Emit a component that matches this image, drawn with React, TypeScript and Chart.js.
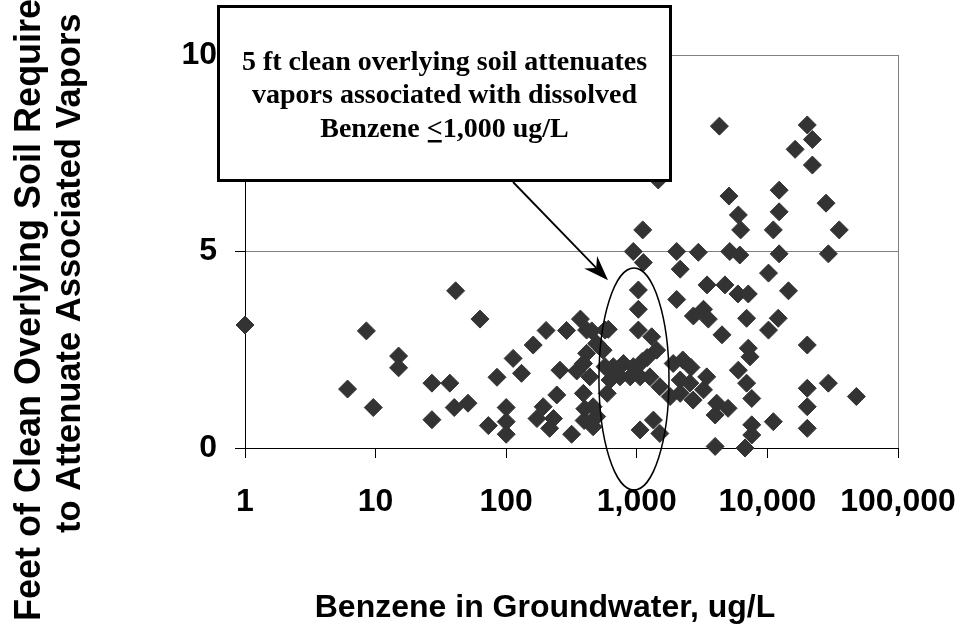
import React, { useEffect, useRef } from 'react';
import { Chart, registerables } from 'chart.js';

Chart.register(...registerables);

// ---- Axis ticks ----
const X_TICKS = [1, 10, 100, 1000, 10000, 100000];
const X_TICK_LABELS = ['1', '10', '100', '1,000', '10,000', '100,000'];
const Y_TICKS = [0, 5, 10];
const Y_TICK_LABELS = ['0', '5', '10'];

// ---- Titles / annotation text ----
const X_TITLE = 'Benzene in Groundwater, ug/L';
const Y_TITLE_LINES = ['Feet of Clean Overlying Soil Required', 'to Attenuate Associated Vapors'];
const NOTE_LINES = ['5 ft clean overlying soil attenuates', 'vapors associated with dissolved'];
const NOTE_LAST = ['Benzene ', '<', '1,000 ug/L'];

// ---- Series: benzene concentration (ug/L) and required clean soil (ft) ----
const BENZENE_UGL = [
  1, 6.1, 8.5, 9.6, 15, 15, 27, 27, 37, 40,
  41, 51, 63, 73, 85, 100, 100, 100, 113, 131,
  161, 244, 192, 172, 230, 215, 202, 258, 290, 317,
  347, 370, 400, 395, 413, 452, 493,
  571, 605, 493, 413, 552, 571, 390, 437, 390, 463,
  463, 661, 790, 940, 744, 624, 890, 1060, 1260, 594,
  1500, 1100, 1110, 940, 1122, 1028, 1028, 1028, 1300, 1420,
  1200, 1060, 1340, 1500, 1460,
  2020, 2960, 2150, 2020, 2710, 3240, 3530, 1900, 2250, 2600,
  2150, 2550, 1800, 2150, 2700, 3240, 3430, 4090, 3980, 5000,
  7590, 11100, 7590, 7590, 3980, 6740,
  4290, 20200, 22100, 16300, 22100, 5080, 12300, 28100, 5990, 12300,
  6240, 11100, 35500, 5150, 6150, 12300, 29300, 10200, 3450, 4730,
  5950, 7140, 14500, 6930, 12100, 10200, 4490, 20200, 7140, 7360,
  5990, 6930, 20200, 29300, 48000, 20200, 20200,
];
const SOIL_FT = [
  3.13, 1.5, 2.98, 1.03, 2.34, 2.04, 1.65, 0.72, 1.65, 1.03,
  4.0, 1.14, 3.28, 0.57, 1.8, 1.03, 0.67, 0.35, 2.28, 1.9,
  2.62, 1.35, 1.05, 0.75, 0.75, 0.5, 2.99, 1.98, 2.99, 0.35,
  1.96, 3.28, 1.0, 0.7, 3.0, 2.98, 0.8,
  3.0, 3.02, 2.66, 2.41, 2.49, 2.07, 2.15, 1.81, 1.39, 1.05,
  0.54, 2.07, 2.15, 2.07, 1.81, 1.73, 1.81, 1.81, 1.81, 1.39,
  1.56, 2.2, 5.55, 5.0, 4.72, 4.02, 3.53, 3.0, 2.83, 2.49,
  2.3, 0.46, 0.71, 0.37, 6.82,
  5.0, 4.98, 4.55, 3.78, 3.36, 3.53, 3.28, 2.15, 2.24, 2.05,
  1.73, 1.65, 1.31, 1.39, 1.22, 1.48, 1.81, 1.14, 0.84, 1.01,
  1.26, 0.67, 0.59, 0.33, 0.04, 0.0,
  8.19, 8.22, 7.85, 7.6, 7.2, 6.41, 6.56, 6.23, 5.93, 6.01,
  5.55, 5.55, 5.55, 5.0, 4.91, 4.94, 4.94, 4.45, 4.15, 4.15,
  3.92, 3.92, 4.0, 3.3, 3.3, 3.0, 2.88, 2.62, 2.54, 2.32,
  1.98, 1.65, 1.52, 1.65, 1.31, 1.05, 0.5,
];

// ---- Annotation anchors in data units ----
const ELLIPSE_X = [513, 1764];
const ELLIPSE_Y = [-1.07, 4.58];
const ARROW_TIP = [602, 4.27];

const SANS = '"Liberation Sans", Arial, Helvetica, sans-serif';
const SERIF = '"Liberation Serif", "Times New Roman", Times, serif';

const annotationPlugin = {
  id: 'annotations',
  afterDraw(chart: any) {
    const ctx = chart.ctx as CanvasRenderingContext2D;
    const xs = chart.scales.x;
    const ys = chart.scales.y;
    ctx.save();

    // ellipse around ~1,000 ug/L
    const el = xs.getPixelForValue(ELLIPSE_X[0]);
    const er = xs.getPixelForValue(ELLIPSE_X[1]);
    const et = ys.getPixelForValue(ELLIPSE_Y[1]);
    const eb = ys.getPixelForValue(ELLIPSE_Y[0]);
    ctx.beginPath();
    ctx.ellipse((el + er) / 2, (et + eb) / 2, (er - el) / 2, (eb - et) / 2, 0, 0, Math.PI * 2);
    ctx.strokeStyle = '#000';
    ctx.lineWidth = 1.5;
    ctx.stroke();

    // arrow
    const sx = 513, sy = 182;
    const tx = xs.getPixelForValue(ARROW_TIP[0]);
    const ty = ys.getPixelForValue(ARROW_TIP[1]);
    const ang = Math.atan2(ty - sy, tx - sx);
    const ca = Math.cos(ang), sa = Math.sin(ang);
    const headLen = 25, headW = 9, notch = 17;
    ctx.beginPath();
    ctx.moveTo(sx, sy);
    ctx.lineTo(tx - ca * notch, ty - sa * notch);
    ctx.lineWidth = 1.8;
    ctx.stroke();
    ctx.beginPath();
    ctx.moveTo(tx, ty);
    ctx.lineTo(tx - ca * headLen - sa * headW, ty - sa * headLen + ca * headW);
    ctx.lineTo(tx - ca * notch, ty - sa * notch);
    ctx.lineTo(tx - ca * headLen + sa * headW, ty - sa * headLen - ca * headW);
    ctx.closePath();
    ctx.fillStyle = '#000';
    ctx.fill();

    // text box
    const bx = 217, by = 5, bw = 455, bh = 177;
    ctx.fillStyle = '#fff';
    ctx.fillRect(bx, by, bw, bh);
    ctx.lineWidth = 3;
    ctx.strokeStyle = '#000';
    ctx.strokeRect(bx + 1.5, by + 1.5, bw - 3, bh - 3);

    const cx = bx + bw / 2;
    ctx.fillStyle = '#000';
    ctx.font = `bold 28px ${SERIF}`;
    ctx.textAlign = 'center';
    ctx.textBaseline = 'alphabetic';
    ctx.fillText(NOTE_LINES[0], cx, 70);
    ctx.fillText(NOTE_LINES[1], cx, 103);
    const wa = ctx.measureText(NOTE_LAST[0]).width;
    const wb = ctx.measureText(NOTE_LAST[1]).width;
    const wc = ctx.measureText(NOTE_LAST[2]).width;
    const start = cx - (wa + wb + wc) / 2;
    ctx.textAlign = 'left';
    ctx.fillText(NOTE_LAST[0], start, 137);
    ctx.fillText(NOTE_LAST[1], start + wa, 137);
    ctx.fillText(NOTE_LAST[2], start + wa + wb, 137);
    ctx.fillRect(start + wa + 1, 140, wb - 2, 2.5);

    // axis titles
    ctx.font = `bold 32px ${SANS}`;
    ctx.textAlign = 'center';
    ctx.fillText(X_TITLE, 545, 617);

    ctx.textAlign = 'left';
    ctx.save();
    ctx.font = `bold 36px ${SANS}`;
    ctx.translate(40, 621);
    ctx.rotate(-Math.PI / 2);
    ctx.fillText(Y_TITLE_LINES[0], 0, 0);
    ctx.restore();
    ctx.save();
    ctx.font = `bold 34.5px ${SANS}`;
    ctx.translate(80, 533);
    ctx.rotate(-Math.PI / 2);
    ctx.fillText(Y_TITLE_LINES[1], 0, 0);
    ctx.restore();

    ctx.restore();
  },
};

export default function App() {
  const ref = useRef<HTMLCanvasElement>(null);
  useEffect(() => {
    document.body.style.margin = '0';
    const canvas = ref.current;
    if (!canvas) return;
    const points = BENZENE_UGL.map((x, i) => ({ x, y: SOIL_FT[i] }));
    const tickFont = { family: SANS, size: 32, weight: 'bold' as const };
    const chart = new Chart(canvas, {
      type: 'scatter',
      data: {
        datasets: [
          {
            data: points,
            pointStyle: 'rectRot',
            pointRadius: 9,
            pointHoverRadius: 9,
            backgroundColor: '#333333',
            borderColor: '#333333',
            borderWidth: 1,
            clip: false as any,
          },
        ],
      },
      options: {
        animation: false,
        responsive: true,
        maintainAspectRatio: false,
        events: [],
        layout: { padding: { left: 0, right: 62, top: 55, bottom: 0 } },
        plugins: { legend: { display: false }, tooltip: { enabled: false } },
        scales: {
          x: {
            type: 'logarithmic',
            min: 1,
            max: 100000,
            afterBuildTicks: (s: any) => {
              s.ticks = X_TICKS.map((v) => ({ value: v }));
            },
            afterFit: (s: any) => {
              s.height = 177;
              s.paddingLeft = 0;
              s.paddingRight = 0;
            },
            ticks: {
              callback: (v: any) => X_TICK_LABELS[X_TICKS.indexOf(Number(v))],
              font: tickFont,
              color: '#000',
              padding: 25,
              maxRotation: 0,
              autoSkip: false,
            },
            grid: {
              color: (c: any) => (c.tick && c.tick.value === 100000 ? '#808080' : 'rgba(0,0,0,0)'),
              tickColor: '#000',
              tickLength: 10,
              lineWidth: 1,
            },
            border: { color: '#000', width: 1 },
          },
          y: {
            type: 'linear',
            min: 0,
            max: 10,
            afterBuildTicks: (s: any) => {
              s.ticks = Y_TICKS.map((v) => ({ value: v }));
            },
            afterFit: (s: any) => {
              s.width = 245;
              s.paddingTop = 0;
              s.paddingBottom = 0;
            },
            ticks: {
              callback: (v: any) => Y_TICK_LABELS[Y_TICKS.indexOf(Number(v))],
              font: tickFont,
              color: '#000',
              padding: 18,
            },
            grid: {
              color: (c: any) => (c.tick && c.tick.value === 0 ? 'rgba(0,0,0,0)' : '#808080'),
              tickColor: '#000',
              tickLength: 10,
              lineWidth: 1,
            },
            border: { color: '#000', width: 1 },
          },
        },
      } as any,
      plugins: [annotationPlugin],
    });
    return () => chart.destroy();
  }, []);
  return (
    <div style={{ position: 'relative', width: 960, height: 625 }}>
      <canvas ref={ref} />
    </div>
  );
}
